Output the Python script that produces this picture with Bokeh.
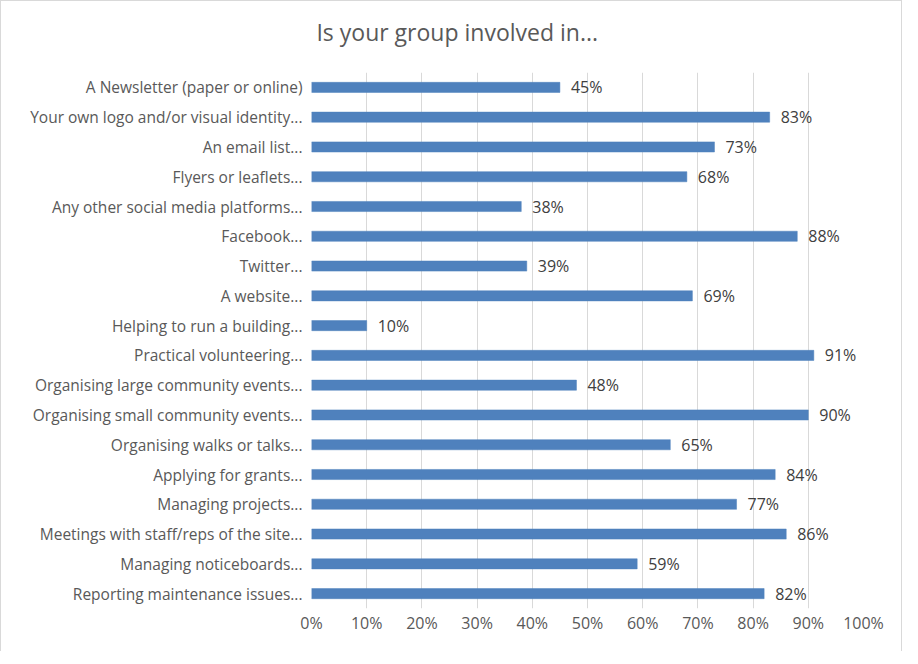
from bokeh.plotting import figure
from bokeh.layouts import column
from bokeh.models import FactorRange, Range1d, FixedTicker, PrintfTickFormatter, ColumnDataSource
from bokeh.core.properties import value
from bokeh.embed import file_html
from bokeh.resources import INLINE

title_text = "Is your group involved in..."
categories = [
    "A Newsletter (paper or online)",
    "Your own logo and/or visual identity...",
    "An email list...",
    "Flyers or leaflets...",
    "Any other social media platforms...",
    "Facebook...",
    "Twitter...",
    "A website...",
    "Helping to run a building...",
    "Practical volunteering...",
    "Organising large community events...",
    "Organising small community events...",
    "Organising walks or talks...",
    "Applying for grants...",
    "Managing projects...",
    "Meetings with staff/reps of the site...",
    "Managing noticeboards...",
    "Reporting maintenance issues...",
]
percent_values = [45, 83, 73, 68, 38, 88, 39, 69, 10, 91, 48, 90, 65, 84, 77, 86, 59, 82]
x_ticks = [0, 10, 20, 30, 40, 50, 60, 70, 80, 90, 100]

FONT = "Open Sans"
GRAY = "#595959"
W = 900

# ---- title strip (its frame is aligned with the chart frame by the column layout) ----
t = figure(width=W, height=71, x_range=Range1d(0, 100), y_range=Range1d(0, 71),
           x_axis_type=None, y_axis_type=None, output_backend="svg",
           toolbar_location=None, min_border=0,
           min_border_left=310, min_border_right=W - 862)
t.outline_line_color = None
t.background_fill_color = "white"
t.border_fill_color = "white"
t.text(x=[26.4], y=[41], text=[title_text], text_align=value("center"),
       text_baseline=value("middle"),
       text_font=value(FONT), text_font_size=value("23px"), text_color=GRAY)

# ---- main chart ----
source = ColumnDataSource(dict(
    cat=categories,
    val=percent_values,
    lab=[f"{v}%" for v in percent_values],
))

p = figure(
    width=W, height=579,
    y_range=FactorRange(factors=list(reversed(categories))),
    x_range=Range1d(0, 100),
    output_backend="svg", toolbar_location=None,
    min_border_left=310, min_border_right=W - 862, min_border_top=0, min_border_bottom=43,
)
p.outline_line_color = None
p.background_fill_color = "white"
p.border_fill_color = "white"

p.hbar(y="cat", right="val", left=0, height=0.34, source=source,
       fill_color="#4f81bd", line_color="#4f81bd", line_width=0.5)

p.text(x="val", y="cat", text="lab", source=source, x_offset=11,
       text_baseline=value("middle"), text_align=value("left"),
       text_font=value(FONT), text_font_size=value("16px"), text_color="#404040")

p.ygrid.grid_line_color = None
p.xgrid.grid_line_color = "#d9d9d9"
p.xgrid.grid_line_width = 1
p.xaxis.ticker = FixedTicker(ticks=x_ticks)
p.xaxis.formatter = PrintfTickFormatter(format="%d%%")

for ax in (p.xaxis, p.yaxis):
    ax.axis_line_color = None
    ax.major_tick_line_color = None
    ax.minor_tick_line_color = None
    ax.major_tick_out = 0
    ax.major_tick_in = 0
    ax.minor_tick_out = 0
    ax.major_label_text_font = FONT
    ax.major_label_text_color = GRAY
p.yaxis.major_label_text_font_size = "15.5px"
p.xaxis.major_label_text_font_size = "16px"
p.yaxis.major_label_standoff = 9
p.xaxis.major_label_standoff = 3
p.y_range.range_padding = 0

layout = column(t, p, spacing=0)
layout.styles = {"border-left": "1px solid #d9d9d9", "border-top": "1px solid #d9d9d9",
                 "border-right": "1px solid #d9d9d9", "background-color": "white"}

open("out.html", "w").write(file_html(layout, INLINE))
